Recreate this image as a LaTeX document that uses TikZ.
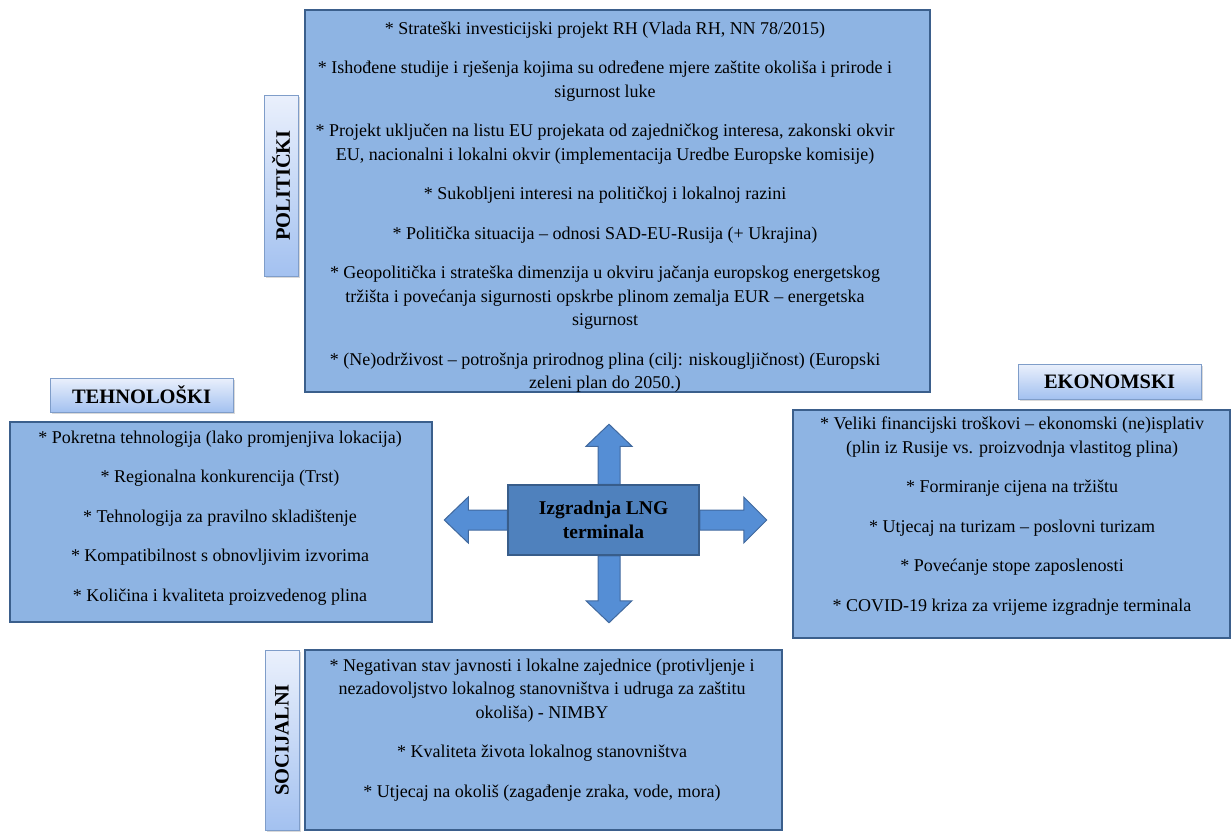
\documentclass[tikz,border=0pt]{standalone}
\usepackage{fontspec}
\setmainfont{Liberation Serif}
\usetikzlibrary{calc,shadows,backgrounds}
\definecolor{panelfill}{HTML}{8EB4E3}
\definecolor{paneledge}{HTML}{3B5F8C}
\definecolor{hubfill}{HTML}{4F81BD}
\definecolor{hubedge}{HTML}{385D8A}
\definecolor{arrowfill}{HTML}{558ED5}
\definecolor{arrowedge}{HTML}{41699E}
\definecolor{tagtop}{HTML}{EAF0FC}
\definecolor{tagbottom}{HTML}{A3C1F0}
\definecolor{tagedge}{HTML}{7F9DC9}
\tikzset{
    panel/.style={
        draw=paneledge,
        fill=panelfill,
        line width=1.5pt,
        inner sep=0pt
    },
    paneltext/.style={
        align=center,
        inner sep=0pt,
        font=\fontsize{18}{23.5}\selectfont
    },
    tag/.style={
        draw=tagedge,
        line width=0.8pt,
        top color=tagtop,
        bottom color=tagbottom,
        inner sep=0pt,
        minimum width=183,
        minimum height=34,
        font=\fontsize{20.5}{22}\selectfont\bfseries,
        drop shadow={shadow xshift=1.5pt, shadow yshift=-1.5pt, opacity=0.3}
    },
    hubbox/.style={
        draw=hubedge,
        fill=hubfill,
        line width=1.5pt,
        minimum width=191,
        minimum height=70,
        inner sep=0pt,
        align=center,
        font=\fontsize{19.5}{24}\selectfont\bfseries
    },
    blockarrow/.style={
        draw=arrowedge,
        fill=arrowfill,
        line width=1pt,
        line join=miter
    }
}

\begin{document}
\begin{tikzpicture}[x=1pt, y=-1pt]
  \useasboundingbox (0,0) rectangle (1232,831);

  % Central node
  \node[hubbox] (hub) at (603.5,520) {Izgradnja LNG\\terminala};

  % Block arrows behind the central node
  \begin{scope}[on background layer]
    \draw[blockarrow] ($(hub.north)+(-5.5,0)$) -- ($(hub.north)+(-5.5,-38)$) -- ($(hub.north)+(-17.5,-38)$)
      -- ($(hub.north)+(5.5,-60)$) -- ($(hub.north)+(28.5,-38)$) -- ($(hub.north)+(16.5,-38)$)
      -- ($(hub.north)+(16.5,0)$) -- cycle;
    \draw[blockarrow] ($(hub.south)+(-5.5,0)$) -- ($(hub.south)+(-5.5,45)$) -- ($(hub.south)+(-17.5,45)$)
      -- ($(hub.south)+(5.5,67)$) -- ($(hub.south)+(28.5,45)$) -- ($(hub.south)+(16.5,45)$)
      -- ($(hub.south)+(16.5,0)$) -- cycle;
    \draw[blockarrow] ($(hub.west)+(0,-10)$) -- ($(hub.west)+(-39,-10)$) -- ($(hub.west)+(-39,-23)$)
      -- ($(hub.west)+(-63,0)$) -- ($(hub.west)+(-39,23)$) -- ($(hub.west)+(-39,10)$)
      -- ($(hub.west)+(0,10)$) -- cycle;
    \draw[blockarrow] ($(hub.east)+(0,-10)$) -- ($(hub.east)+(44,-10)$) -- ($(hub.east)+(44,-23)$)
      -- ($(hub.east)+(67,0)$) -- ($(hub.east)+(44,23)$) -- ($(hub.east)+(44,10)$)
      -- ($(hub.east)+(0,10)$) -- cycle;
  \end{scope}

  % Panels
  \node[panel, minimum width=625, minimum height=382] (politbox) at (617.5,201) {};
  \node[panel, minimum width=422, minimum height=200] (techbox) at (221,522) {};
  \node[panel, minimum width=437, minimum height=228] (econbox) at (1011.5,524) {};
  \node[panel, minimum width=477, minimum height=180] (socbox) at (543.5,740) {};

  % Panel texts
  \node[paneltext] (polittext) at (605,207) {%
    * Strateški investicijski projekt RH (Vlada RH, NN 78/2015)\\[16pt]
    * Ishođene studije i rješenja kojima su određene mjere zaštite okoliša i prirode i\\
    sigurnost luke\\[16pt]
    * Projekt uključen na listu EU projekata od zajedničkog interesa, zakonski okvir\\
    EU, nacionalni i lokalni okvir (implementacija Uredbe Europske komisije)\\[16pt]
    * Sukobljeni interesi na političkoj i lokalnoj razini\\[16pt]
    * Politička situacija – odnosi SAD-EU-Rusija (+ Ukrajina)\\[16pt]
    * Geopolitička i strateška dimenzija u okviru jačanja europskog energetskog\\
    tržišta i povećanja sigurnosti opskrbe plinom zemalja EUR – energetska\\
    sigurnost\\[16pt]
    * (Ne)održivost – potrošnja prirodnog plina (cilj: niskougljičnost) (Europski\\
    zeleni plan do 2050.)};
  \node[paneltext] (techtext) at (220,518) {%
    * Pokretna tehnologija (lako promjenjiva lokacija)\\[16pt]
    * Regionalna konkurencija (Trst)\\[16pt]
    * Tehnologija za pravilno skladištenje\\[16pt]
    * Kompatibilnost s obnovljivim izvorima\\[16pt]
    * Količina i kvaliteta proizvedenog plina};
  \node[paneltext] (econtext) at (1012,516) {%
    * Veliki financijski troškovi – ekonomski (ne)isplativ\\
    (plin iz Rusije vs. proizvodnja vlastitog plina)\\[16pt]
    * Formiranje cijena na tržištu\\[16pt]
    * Utjecaj na turizam – poslovni turizam\\[16pt]
    * Povećanje stope zaposlenosti\\[16pt]
    * COVID-19 kriza za vrijeme izgradnje terminala};
  \node[paneltext] (soctext) at (542,730) {%
    * Negativan stav javnosti i lokalne zajednice (protivljenje i\\
    nezadovoljstvo lokalnog stanovništva i udruga za zaštitu\\
    okoliša) - NIMBY\\[16pt]
    * Kvaliteta života lokalnog stanovništva\\[16pt]
    * Utjecaj na okoliš (zagađenje zraka, vode, mora)};

  % Category tags
  \node[tag, rotate=90, minimum width=181] (polittag) at (281,185.5) {POLITIČKI};
  \node[tag] (techtag) at (141.5,395) {TEHNOLOŠKI};
  \node[tag, minimum height=35] (econtag) at (1109.5,381.5) {EKONOMSKI};
  \node[tag, rotate=90, minimum width=180] (soctag) at (282,740) {SOCIJALNI};
\end{tikzpicture}
\end{document}
